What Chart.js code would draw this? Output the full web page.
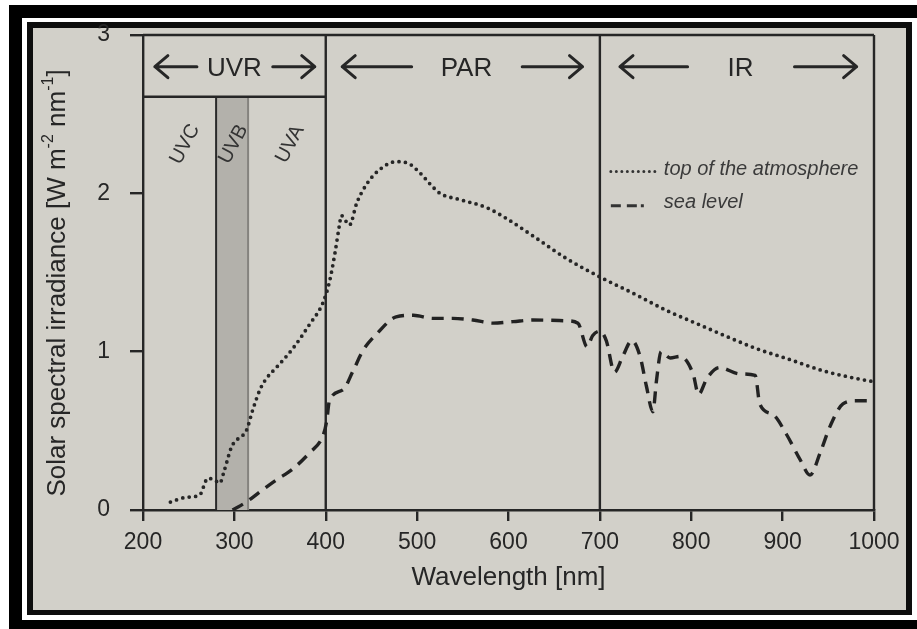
<!DOCTYPE html>
<html>
<head>
<meta charset="utf-8">
<script src="https://cdn.jsdelivr.net/npm/chart.js@4.4.1/dist/chart.umd.min.js"></script>
<style>
  html, body { margin: 0; padding: 0; background: #fff; }
  #page { position: relative; width: 917px; height: 629px; overflow: hidden; }
  .frame { position: absolute; }
  #f1 { left: 9px; top: 5px; width: 908px; height: 624px; background: #000; }
  #f2 { left: 22px; top: 18px; width: 895px; height: 602px; background: #fff; }
  #f3 { left: 27px; top: 22px; width: 885px; height: 593px; background: #0d0d0d; }
  #f4 { left: 33px; top: 28px; width: 873px; height: 582px; background: #d2d0c9; }
  #chartBox { position: absolute; left: 0; top: 0; width: 917px; height: 629px; }
</style>
</head>
<body>
<div id="page">
  <div class="frame" id="f1"></div>
  <div class="frame" id="f2"></div>
  <div class="frame" id="f3"></div>
  <div class="frame" id="f4"></div>
  <div id="chartBox"><canvas id="spectrumChart"></canvas></div>
</div>
<script>
// top of the atmosphere (dotted)
const topWavelength = [230, 247, 262, 271, 278, 284, 289, 297, 304, 313, 320, 328, 335, 346, 364, 382, 397, 404, 410, 415, 417, 426, 434, 445, 459, 477, 490, 503, 514, 525, 547, 576, 598, 627, 663, 704, 736, 773, 809, 835, 871, 908, 944, 981, 1000];
const topIrradiance = [0.05, 0.08, 0.095, 0.2, 0.19, 0.17, 0.25, 0.4, 0.45, 0.5, 0.63, 0.76, 0.83, 0.9, 1.02, 1.17, 1.31, 1.44, 1.62, 1.8, 1.86, 1.8, 1.94, 2.06, 2.15, 2.2, 2.19, 2.13, 2.06, 2.0, 1.96, 1.91, 1.84, 1.73, 1.59, 1.46, 1.37, 1.26, 1.17, 1.105, 1.02, 0.95, 0.88, 0.83, 0.81];

// sea level (dashed)
const seaWavelength = [298, 313, 328, 346, 364, 382, 397, 401, 404, 419, 430, 441, 457, 477, 496, 517, 539, 561, 583, 605, 627, 663, 676, 686, 692, 700, 707, 716, 725, 735, 744, 751, 758, 762, 767, 777, 788, 802, 808, 817, 831, 853, 870, 875, 890, 904, 919, 930, 941, 952, 966, 981, 1000];
const seaIrradiance = [0.0, 0.05, 0.115, 0.19, 0.26, 0.36, 0.47, 0.56, 0.69, 0.76, 0.88, 1.01, 1.12, 1.22, 1.23, 1.21, 1.21, 1.2, 1.18, 1.19, 1.2, 1.195, 1.18, 1.03, 1.1, 1.13, 1.07, 0.87, 0.97, 1.07, 0.97, 0.78, 0.62, 0.82, 1.0, 0.96, 0.97, 0.86, 0.73, 0.83, 0.9, 0.86, 0.85, 0.67, 0.6, 0.48, 0.32, 0.22, 0.36, 0.53, 0.67, 0.69, 0.69];

const yTicks = [0, 1, 2, 3];
const bandEdges = [400, 700];
const uvbBand = [280, 315];
const uvrBoxBottom = 2.61;
const bandLabelLevel = 2.8;

// band headers: label centre and arrow spans, in nm
const bandNames = ["UVR", "PAR", "IR"];
const bandNameCentre = [300, 554, 854];
const leftArrowSpan = [[213, 259], [418, 494], [722, 796]];
const rightArrowSpan = [[342, 388], [615, 681], [913, 981]];

const uvNames = ["UVC", "UVB", "UVA"];
const uvNameCentre = [246, 299, 361];
const uvNameLevel = 2.31;

const FONT = "'Liberation Sans', Arial, Helvetica, sans-serif";
const INK = "#262626";

function toPoints(xs, ys) {
  return xs.map((v, i) => ({ x: v, y: ys[i] }));
}

function arrow(ctx, x0, x1, yy, pointLeft) {
  const tip = pointLeft ? x0 : x1;
  const dir = pointLeft ? 1 : -1;
  ctx.beginPath();
  ctx.moveTo(x0, yy);
  ctx.lineTo(x1, yy);
  ctx.moveTo(tip + dir * 13, yy - 11);
  ctx.lineTo(tip, yy);
  ctx.lineTo(tip + dir * 13, yy + 11);
  ctx.stroke();
}

const decorations = {
  id: "decorations",
  beforeDatasetsDraw(chart) {
    const { ctx, chartArea: a, scales: { x, y } } = chart;
    ctx.save();

    // UVB band
    const b0 = x.getPixelForValue(uvbBand[0]);
    const b1 = x.getPixelForValue(uvbBand[1]);
    const boxY = y.getPixelForValue(uvrBoxBottom);
    ctx.fillStyle = "#b3b1ab";
    ctx.fillRect(b0, boxY, b1 - b0, a.bottom - boxY);
    ctx.lineWidth = 2;
    ctx.strokeStyle = "#2a2a2a";
    ctx.beginPath();
    ctx.moveTo(b0, boxY);
    ctx.lineTo(b0, a.bottom);
    ctx.stroke();
    ctx.strokeStyle = "#85837e";
    ctx.beginPath();
    ctx.moveTo(b1, boxY);
    ctx.lineTo(b1, a.bottom);
    ctx.stroke();

    // UVR box, band edges, top and right frame
    ctx.strokeStyle = INK;
    ctx.lineWidth = 2.4;
    ctx.beginPath();
    ctx.moveTo(a.left, boxY);
    ctx.lineTo(x.getPixelForValue(bandEdges[0]), boxY);
    bandEdges.forEach((e) => {
      const px = x.getPixelForValue(e);
      ctx.moveTo(px, a.top);
      ctx.lineTo(px, a.bottom);
    });
    ctx.moveTo(a.left, a.top);
    ctx.lineTo(a.right, a.top);
    ctx.moveTo(a.right, a.top);
    ctx.lineTo(a.right, a.bottom);
    ctx.stroke();

    // band headers
    const ly = y.getPixelForValue(bandLabelLevel);
    ctx.fillStyle = INK;
    ctx.font = "26px " + FONT;
    ctx.textAlign = "center";
    ctx.textBaseline = "middle";
    ctx.lineWidth = 3;
    ctx.lineCap = "round";
    ctx.lineJoin = "round";
    bandNames.forEach((name, i) => {
      ctx.fillText(name, x.getPixelForValue(bandNameCentre[i]), ly + 2);
      arrow(ctx, x.getPixelForValue(leftArrowSpan[i][0]), x.getPixelForValue(leftArrowSpan[i][1]), ly, true);
      arrow(ctx, x.getPixelForValue(rightArrowSpan[i][0]), x.getPixelForValue(rightArrowSpan[i][1]), ly, false);
    });

    // UVC / UVB / UVA
    ctx.font = "20px " + FONT;
    ctx.fillStyle = "#333";
    const uy = y.getPixelForValue(uvNameLevel);
    uvNames.forEach((name, i) => {
      ctx.save();
      ctx.translate(x.getPixelForValue(uvNameCentre[i]), uy);
      ctx.rotate(-62 * Math.PI / 180);
      ctx.fillText(name, 0, 0);
      ctx.restore();
    });
    ctx.restore();
  },
  afterDraw(chart) {
    const { ctx, scales: { x, y } } = chart;
    ctx.save();

    // legend
    const lx0 = x.getPixelForValue(712);
    const lx1 = x.getPixelForValue(761);
    const tx = x.getPixelForValue(770);
    const r1 = y.getPixelForValue(2.15);
    const r2 = y.getPixelForValue(1.94);
    ctx.strokeStyle = "#333";
    ctx.lineWidth = 3;
    ctx.lineCap = "round";
    ctx.setLineDash([0, 5.5]);
    ctx.beginPath();
    ctx.moveTo(lx0, r1 + 2);
    ctx.lineTo(lx1, r1 + 2);
    ctx.stroke();
    ctx.setLineDash([]);
    ctx.lineCap = "butt";
    ctx.beginPath();
    ctx.moveTo(lx0, r2 + 3);
    ctx.lineTo(lx0 + 10, r2 + 3);
    ctx.moveTo(lx0 + 16, r2 + 3);
    ctx.lineTo(lx0 + 26, r2 + 3);
    ctx.moveTo(lx0 + 30, r2 + 3);
    ctx.lineTo(lx0 + 33, r2 + 3);
    ctx.stroke();
    ctx.fillStyle = "#3a3a3a";
    ctx.font = "italic 20px " + FONT;
    ctx.textAlign = "left";
    ctx.textBaseline = "middle";
    ctx.fillText("top of the atmosphere", tx, r1);
    ctx.fillText("sea level", tx, r2);

    // y axis title with superscripts
    const parts = [
      ["Solar spectral irradiance [W m", false],
      ["-2", true],
      [" nm", false],
      ["-1", true],
      ["]", false],
    ];
    const big = "26px " + FONT;
    const small = "16px " + FONT;
    let total = 0;
    parts.forEach(([t, sup]) => {
      ctx.font = sup ? small : big;
      total += ctx.measureText(t).width;
    });
    ctx.translate(58, 283);
    ctx.rotate(-Math.PI / 2);
    ctx.fillStyle = INK;
    let cx = -total / 2;
    parts.forEach(([t, sup]) => {
      ctx.font = sup ? small : big;
      ctx.fillText(t, cx, sup ? -9 : 0);
      cx += ctx.measureText(t).width;
    });
    ctx.restore();
  },
};

const ctx = document.getElementById("spectrumChart").getContext("2d");

new Chart(ctx, {
  type: "line",
  data: {
    datasets: [
      {
        label: "top of the atmosphere",
        data: toPoints(topWavelength, topIrradiance),
        borderColor: "#262626",
        borderWidth: 3.8,
        borderDash: [0, 6.5],
        borderCapStyle: "round",
        pointRadius: 0,
        cubicInterpolationMode: "monotone",
        fill: false,
      },
      {
        label: "sea level",
        data: toPoints(seaWavelength, seaIrradiance),
        borderColor: "#222",
        borderWidth: 3.4,
        borderDash: [12, 8],
        pointRadius: 0,
        cubicInterpolationMode: "monotone",
        fill: false,
      },
    ],
  },
  options: {
    responsive: true,
    maintainAspectRatio: false,
    animation: false,
    layout: {
      padding: { top: 35, right: 43, left: 0, bottom: 0 },
    },
    scales: {
      x: {
        type: "linear",
        min: 200,
        max: 1000,
        ticks: {
          stepSize: 100,
          color: INK,
          padding: 8,
          font: { family: FONT, size: 23 },
          callback: (value) => String(value),
        },
        grid: {
          drawOnChartArea: false,
          drawTicks: true,
          tickLength: 11,
          color: INK,
          lineWidth: 2.4,
        },
        border: { display: true, color: INK, width: 2.4 },
        title: {
          display: true,
          text: "Wavelength [nm]",
          color: INK,
          font: { family: FONT, size: 26 },
          padding: { top: 0, bottom: 36 },
        },
        afterFit(scale) {
          scale.height = 119;
        },
      },
      y: {
        min: 0,
        max: 3,
        afterBuildTicks(scale) {
          scale.ticks = yTicks.map((v) => ({ value: v }));
        },
        ticks: {
          color: INK,
          padding: 20,
          font: { family: FONT, size: 23 },
        },
        grid: {
          drawOnChartArea: false,
          drawTicks: true,
          tickLength: 13,
          color: INK,
          lineWidth: 2.4,
        },
        border: { display: true, color: INK, width: 2.4 },
        afterFit(scale) {
          scale.width = 143;
        },
      },
    },
    plugins: {
      legend: { display: false },
      tooltip: { enabled: false },
    },
  },
  plugins: [decorations],
});
</script>
</body>
</html>
